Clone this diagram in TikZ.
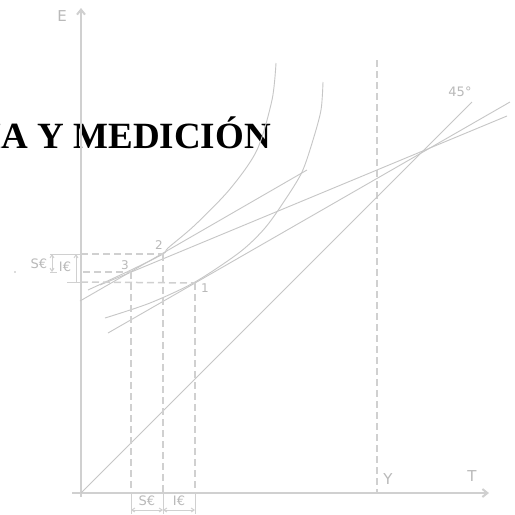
\documentclass[tikz,border=0pt]{standalone}
\usepackage{fontspec}
\setmainfont{Liberation Serif}
\newfontfamily\lblfont{DejaVu Sans}
\usetikzlibrary{arrows.meta}
\definecolor{axg}{RGB}{208,208,208}
\definecolor{lng}{RGB}{198,198,198}
\definecolor{txg}{RGB}{185,185,185}
\begin{document}
\begin{tikzpicture}[x=1pt,y=-1pt,
  axisline/.style={draw=axg, line width=2pt, -{Straight Barb[length=5pt,width=8pt]}},
  dashline/.style={draw=axg, line width=1.5pt, dash pattern=on 7pt off 4pt},
  thinline/.style={draw=lng, line width=0.9pt},
  dimline/.style={draw=axg, line width=1pt},
  dimarrows/.style={dimline, {Straight Barb[length=3pt,width=4pt]}-{Straight Barb[length=3pt,width=4pt]}},
  lbl/.style={text=txg, font=\lblfont\fontsize{13}{13}\selectfont, inner sep=0pt},
  biglbl/.style={text=txg, font=\lblfont\fontsize{15}{15}\selectfont, inner sep=0pt},
  smalllbl/.style={text=txg, font=\lblfont\fontsize{12}{12}\selectfont, inner sep=0pt},
  titlestyle/.style={text=black, font=\bfseries\fontsize{37}{37}\selectfont, inner sep=0pt}
]
\useasboundingbox (0,0) rectangle (515,515);
\fill[white] (0,0) rectangle (515,515);

% key coordinates
\coordinate (O) at (81,493);
\coordinate (Ebot) at (81,497);
\coordinate (Etop) at (81,8);
\coordinate (Tleft) at (72,493);
\coordinate (Tright) at (489,493);
\coordinate (P) at (421,152);
\coordinate (p1) at (195,283);
\coordinate (p2) at (163,254);
\coordinate (p3) at (131,272);
\coordinate (d45) at (472,102);
\coordinate (L1a) at (108,333);
\coordinate (L1b) at (510,102);
\coordinate (L2a) at (100,285);
\coordinate (L2b) at (507,116);
\coordinate (L3a) at (80,301);
\coordinate (L3b) at (307,170);
\coordinate (Ytop) at (377,60);
\coordinate (Ybot) at (377,493);

% title
\node[titlestyle, anchor=base east] (title) at (271,148) {ÍA Y MEDICIÓN};

% axes
\draw[axisline] (Ebot) -- (Etop);
\draw[axisline] (Tleft) -- (Tright);

% Y dashed
\draw[dashline] (Ytop) -- (Ybot);

% 45 degree line
\draw[thinline] (O) -- (d45);

% budget lines
\draw[thinline] (L1a) -- (L1b);
\draw[thinline] (L2a) -- (L2b);
\draw[thinline] (L3a) -- (L3b);

% indifference curves
\draw[thinline] plot[smooth] coordinates {(276,63) (272,100) (257,150) (230,189) (195,225) (168,248) (163,254) (131,270) (88,290)};
\draw[thinline] plot[smooth] coordinates {(323,82) (321,110) (313,140) (302,172) (285,200) (265,228) (240,252) (195,282) (150,303) (105,318)};

% dashed projections
\draw[dashline] (81,254) -- (p2);
\draw[dashline] (83,272) -- (p3);
\draw[dashline] (81,282) -- (p1);
\draw[dashline] (p3) -- (131,493);
\draw[dashline] (p2) -- (163,493);
\draw[dashline] (p1) -- (195,493);

% bottom dimension
\draw[dimline] (131,493) -- (131,514);
\draw[dimline] (163,493) -- (163,514);
\draw[dimline] (195,493) -- (195,514);
\draw[dimarrows] (131,510) -- (163,510);
\draw[dimarrows] (163,510) -- (195,510);
\node[lbl] (seb) at (147,501) {S€};
\node[lbl] (ieb) at (179,501) {I€};

% left dimension
\draw[dimline] (50,254) -- (81,254);
\draw[dimarrows] (52,254) -- (52,272);
\draw[dimline] (50,272) -- (57,272);
\draw[dimline, -{Straight Barb[length=3pt,width=4pt]}] (76,282) -- (76,254);
\draw[dimline] (67,282) -- (81,282);
\node[lbl] (sel) at (39,264) {S€};
\node[lbl] (iel) at (65,267) {I€};
\fill[txg] (15,272) circle (0.8pt);

% labels
\node[biglbl] (Elbl) at (62,16) {E};
\node[biglbl] (Tlbl) at (472,476) {T};
\node[biglbl] (Ylbl) at (388,479) {Y};
\node[lbl] (ang) at (460,92) {45°};
\node[smalllbl] (n1) at (205,288) {1};
\node[smalllbl] (n2) at (159,245) {2};
\node[smalllbl] (n3) at (125,265) {3};
\end{tikzpicture}
\end{document}
